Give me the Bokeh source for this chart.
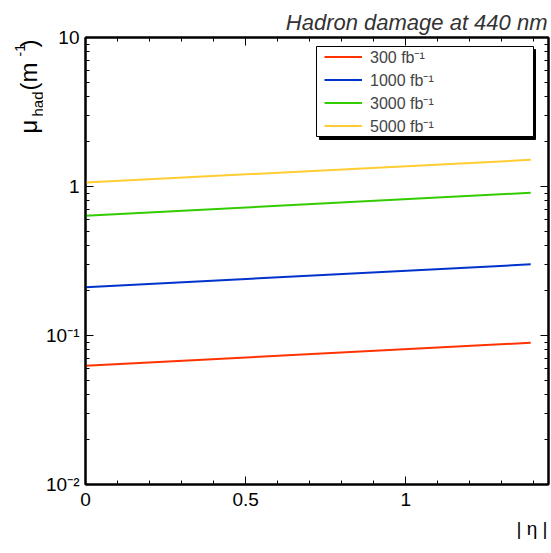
import math
from bokeh.plotting import figure
from bokeh.layouts import row
from bokeh.models import (Range1d, LogAxis, LinearAxis, Label, Legend, LegendItem,
                          BoxAnnotation, FixedTicker, Title)
from bokeh.embed import file_html
from bokeh.resources import INLINE

# ---- data ----
eta = [0.0, 1.39]
series_names = ["300 fb\u207b\u00b9", "1000 fb\u207b\u00b9", "3000 fb\u207b\u00b9", "5000 fb\u207b\u00b9"]
mu_300 = [0.0627, 0.0894]
mu_1000 = [0.2106, 0.3002]
mu_3000 = [0.636, 0.908]
mu_5000 = [1.064, 1.51]
colors = ["#ff3300", "#0033cc", "#33cc00", "#ffcc33"]

x_major = [0, 0.5, 1]
x_minor = [round(0.1 * i, 1) for i in range(0, 15)]
y_major = [0.01, 0.1, 1, 10]
y_minor = [m * 10.0 ** e for e in (-2, -1, 0) for m in range(2, 10)]
y_labels = {0.01: "10\u207b\u00b2", 0.1: "10\u207b\u00b9", 1: "1", 10: "10"}
x_labels = {0: "0", 0.5: "0.5", 1: "1"}

FONT = "Liberation Sans"
W, H = 551, 553
LW = 43  # width of the strip holding the y-axis title
B_TOP, B_BOTTOM = 37, 69

p = figure(width=W - LW, height=H, y_axis_type="log",
           x_range=Range1d(0, 1.4455), y_range=Range1d(0.01, 10),
           output_backend="svg", toolbar_location=None,
           min_border_left=84 - LW, min_border_right=3,
           min_border_top=B_TOP, min_border_bottom=B_BOTTOM)
p.xgrid.visible = False
p.ygrid.visible = False
p.outline_line_color = "black"
p.outline_line_width = 2
p.background_fill_color = "white"
p.border_fill_color = "white"

def style_axis(ax, ticker, show_labels):
    ax.ticker = ticker
    ax.axis_line_width = 2
    ax.axis_line_color = "black"
    ax.major_tick_in = 8
    ax.major_tick_out = 0
    ax.minor_tick_in = 4
    ax.minor_tick_out = 0
    ax.major_tick_line_color = "black"
    ax.minor_tick_line_color = "black"
    ax.major_label_text_font = FONT
    ax.major_label_text_color = "black"
    if show_labels:
        ax.major_label_text_font_size = "19px"
    else:
        ax.major_label_text_font_size = "1px"
        ax.major_label_text_alpha = 0
        ax.major_label_standoff = 0

style_axis(p.xaxis[0], FixedTicker(ticks=x_major, minor_ticks=x_minor), True)
p.xaxis[0].major_label_overrides = x_labels
p.xaxis[0].major_label_standoff = 8
style_axis(p.yaxis[0], FixedTicker(ticks=y_major, minor_ticks=y_minor), True)
p.yaxis[0].major_label_overrides = y_labels
p.yaxis[0].major_label_standoff = 6

top = LinearAxis()
style_axis(top, FixedTicker(ticks=x_major, minor_ticks=x_minor), False)
p.add_layout(top, "above")
right = LogAxis()
style_axis(right, FixedTicker(ticks=y_major, minor_ticks=y_minor), False)
p.add_layout(right, "right")

series = [mu_300, mu_1000, mu_3000, mu_5000]
rends = []
for vals, c in zip(series, colors):
    rends.append(p.line(eta, vals, line_color=c, line_width=2))

# legend frame with drop shadow (frame-relative screen units)
def sbox(l, r, b, t, **kw):
    return BoxAnnotation(left=l, right=r, bottom=b, top=t,
                         left_units="screen", right_units="screen",
                         bottom_units="screen", top_units="screen", **kw)

p.add_layout(sbox(234, 450, 345, 435, fill_color="black", fill_alpha=1,
                  line_color="black", line_alpha=1))
p.add_layout(sbox(231, 448, 348, 438, fill_color="white", fill_alpha=1,
                  line_color="black", line_width=1, line_alpha=1))

legend = Legend(items=[LegendItem(label=n, renderers=[r]) for n, r in zip(series_names, rends)],
                location=(239, 347), padding=0, spacing=0, margin=0,
                label_height=23, glyph_height=23, glyph_width=38, label_standoff=8,
                label_text_font=FONT, label_text_font_size="16px",
                border_line_color=None, background_fill_alpha=0)
p.add_layout(legend)

p.add_layout(Title(text="Hadron damage at 440 nm", align="right", text_font=FONT,
                   text_font_style="italic", text_font_size="22px", text_color="#333333",
                   standoff=5, offset=1), "above")
p.add_layout(Title(text="| \u03b7 |", align="right", text_font=FONT, text_font_style="normal",
                   text_font_size="19px", text_color="black", standoff=15, offset=1), "below")

# ---- strip on the left with the rotated y-axis title ----
q = figure(width=LW, height=H, x_range=Range1d(0, LW), y_range=Range1d(0, H),
           output_backend="svg", toolbar_location=None,
           x_axis_location=None, y_axis_location=None,
           min_border_left=0, min_border_right=0,
           min_border_top=B_TOP, min_border_bottom=B_BOTTOM)
q.xgrid.visible = False
q.ygrid.visible = False
q.outline_line_color = None
q.background_fill_color = "white"
q.border_fill_color = "white"

FRAME_BOTTOM = H - B_BOTTOM  # canvas y of the frame's bottom edge

def ypiece(txt, size, cx, cy):
    q.add_layout(Label(x=cx, y=FRAME_BOTTOM - cy, x_units="screen", y_units="screen", text=txt,
                       angle=math.pi / 2, text_align="left", text_baseline="alphabetic",
                       text_font=FONT, text_font_size=size, text_color="black"))

ypiece("\u03bc", "24px", 28, 133)
ypiece("had", "15px", 37, 116)
ypiece("(m", "24px", 28, 90)
ypiece("-1", "14px", 19, 56)
ypiece(")", "24px", 28, 47)

layout = row(q, p, spacing=0)
open("out.html", "w").write(file_html(layout, INLINE))
